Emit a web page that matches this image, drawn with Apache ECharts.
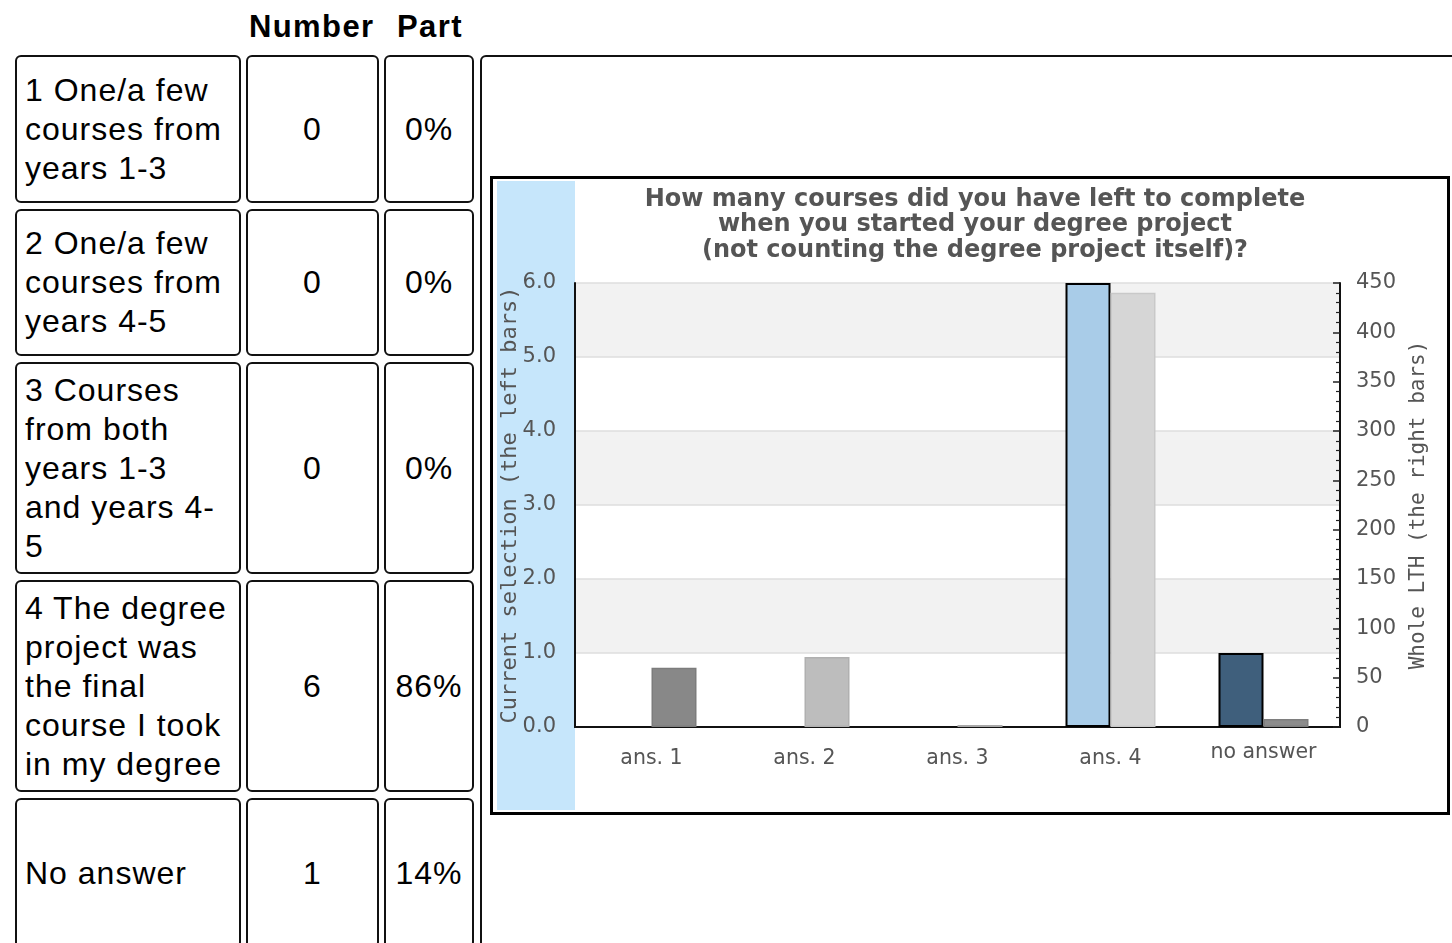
<!DOCTYPE html>
<html>
<head>
<meta charset="utf-8">
<script src="https://cdn.jsdelivr.net/npm/echarts@6/dist/echarts.min.js"></script>
<style>
  html, body { margin: 0; padding: 0; background: #fff; overflow: hidden; }
  body { width: 1452px; height: 943px; position: relative; font-family: "Liberation Sans", Arial, Helvetica, sans-serif; color: #000; }
  .hdr { position: absolute; top: 8px; font-weight: bold; font-size: 31px; line-height: 38px; letter-spacing: 1.4px; }
  .cell { position: absolute; box-sizing: border-box; border: 2px solid #111; border-radius: 6px;
          display: flex; align-items: center; font-size: 32px; line-height: 39px; white-space: nowrap; letter-spacing: 1px; }
  .c1 { left: 15px; width: 226px; padding-left: 8px; }
  .c2 { left: 246px; width: 133px; justify-content: center; }
  .c3 { left: 384px; width: 90px; justify-content: center; }
  #chart { position: absolute; left: 0; top: 0; width: 1452px; height: 943px; }
</style>
</head>
<body>
<div id="table"></div>
<div id="chart"></div>
<script>
// ---- table data ----
var tableHeaders = ['Number', 'Part'];
var answerTexts = [
  '1 One/a few\ncourses from\nyears 1-3',
  '2 One/a few\ncourses from\nyears 4-5',
  '3 Courses\nfrom both\nyears 1-3\nand years 4-\n5',
  '4 The degree\nproject was\nthe final\ncourse I took\nin my degree',
  'No answer'
];
var answerCounts = [0, 0, 0, 6, 1];
var answerParts = ['0%', '0%', '0%', '86%', '14%'];

// ---- chart data ----
var chartTitle = 'How many courses did you have left to complete\nwhen you started your degree project\n(not counting the degree project itself)?';
var categories = ['ans. 1', 'ans. 2', 'ans. 3', 'ans. 4', 'no answer'];
var currentSelection = [0, 0, 0, 6, 1];      // left bars, left axis
var wholeLTH = [60, 71, 2, 440, 8];          // right bars, right axis
var leftAxisName = 'Current selection (the left bars)';
var rightAxisName = 'Whole LTH (the right bars)';

// ---- styles (kept separate from data) ----
var leftColors = ['#a9cce8', '#a9cce8', '#a9cce8', '#a9cce8', '#3f5f7c'];
var rightColors = ['#888888', '#bdbdbd', '#b5b5b5', '#d6d6d6', '#8c8c8c'];
var rightBorders = ['#7c7c7c', '#b0b0b0', '#a8a8a8', '#c9c9c9', '#7e7e7e'];

// ---- build HTML table ----
var rowTops = [55, 209, 362, 580, 798];
var rowHeights = [148, 147, 212, 212, 150];
var tbl = document.getElementById('table');
var html = '';
html += '<div class="hdr" style="left:249px">' + tableHeaders[0] + '</div>';
html += '<div class="hdr" style="left:397px">' + tableHeaders[1] + '</div>';
for (var i = 0; i < answerTexts.length; i++) {
  var st = 'top:' + rowTops[i] + 'px;height:' + rowHeights[i] + 'px;';
  html += '<div class="cell c1" style="' + st + '"><div>' + answerTexts[i].replace(/\n/g, '<br>') + '</div></div>';
  html += '<div class="cell c2" style="' + st + '">' + answerCounts[i] + '</div>';
  html += '<div class="cell c3" style="' + st + '">' + answerParts[i] + '</div>';
}
html += '<div class="cell" style="left:480px;top:55px;width:1000px;height:920px;"></div>';
tbl.innerHTML = html;

// ---- chart ----
var chart = echarts.init(document.getElementById('chart'), null, { renderer: 'canvas' });
var labelFont = 'DejaVu Sans';
var monoFont = 'DejaVu Sans Mono';

var catData = categories.map(function (c, i) {
  return (i === categories.length - 1)
    ? { value: c, textStyle: { padding: [0, 0, 0, 0] } }
    : { value: c, textStyle: { padding: [6, 0, 0, 0] } };
});

var option = {
  animation: false,
  backgroundColor: 'transparent',
  title: {
    text: chartTitle,
    left: 970,
    top: 182,
    textAlign: 'center',
    textStyle: { fontFamily: labelFont, fontWeight: 'bold', fontSize: 24, lineHeight: 25.5, color: '#555555' }
  },
  graphic: [
    { type: 'rect', z: -10, shape: { x: 491.5, y: 177.5, width: 957, height: 636 },
      style: { fill: '#ffffff', stroke: '#000000', lineWidth: 3 } },
    { type: 'rect', z: -9, shape: { x: 497, y: 181, width: 78, height: 629 },
      style: { fill: '#c6e6fb' } }
  ],
  grid: { left: 575, top: 283, right: 112, bottom: 216, containLabel: false },
  xAxis: [
    {
      type: 'category', data: catData, position: 'bottom',
      axisLine: { show: true, lineStyle: { color: '#111', width: 2 } },
      axisTick: { show: false },
      axisLabel: { margin: 15, fontFamily: labelFont, fontSize: 20.5, color: '#555555' },
      splitLine: { show: false }
    },
    {
      type: 'category', data: categories, position: 'top',
      axisLine: { show: true, lineStyle: { color: '#111', width: 2 } },
      axisTick: { show: false }, axisLabel: { show: false }
    }
  ],
  yAxis: [
    {
      type: 'value', min: 0, max: 6, interval: 1, position: 'left',
      name: leftAxisName, nameLocation: 'middle', nameRotate: 90, nameGap: 54, nameMoveOverlap: false,
      nameTextStyle: { fontFamily: monoFont, fontSize: 22, color: '#555555' },
      axisLine: { show: true, lineStyle: { color: '#111', width: 2 } },
      axisTick: { show: false },
      axisLabel: { margin: 19, fontFamily: labelFont, fontSize: 21, color: '#555555',
                   formatter: function (v) { return v.toFixed(1); } },
      splitLine: { show: true, lineStyle: { color: '#dedede', width: 1.5 } },
      splitArea: { show: true, areaStyle: { color: ['#ffffff', '#f2f2f2'] } }
    },
    {
      type: 'value', min: 0, max: 450, interval: 50, position: 'right',
      name: rightAxisName, nameLocation: 'middle', nameRotate: 90, nameGap: 68, nameMoveOverlap: false,
      nameTextStyle: { fontFamily: monoFont, fontSize: 21, color: '#555555' },
      axisLine: { show: true, lineStyle: { color: '#111', width: 2 } },
      axisTick: { show: true, inside: true, length: 7, lineStyle: { color: '#222', width: 1.5 } },
      minorTick: { show: true, splitNumber: 5, length: 4, lineStyle: { color: '#222', width: 1.2 } },
      axisLabel: { margin: 16, fontFamily: labelFont, fontSize: 21, color: '#555555' },
      splitLine: { show: false }
    }
  ],
  series: [
    {
      type: 'bar', xAxisIndex: 0, yAxisIndex: 0, barWidth: 45, barGap: '0%',
      data: currentSelection.map(function (v, i) {
        return { value: v, itemStyle: { color: leftColors[i], borderColor: '#000', borderWidth: v > 0 ? 2 : 0 } };
      })
    },
    {
      type: 'bar', xAxisIndex: 0, yAxisIndex: 1, barWidth: 45, barGap: '0%',
      data: wholeLTH.map(function (v, i) {
        return { value: v, itemStyle: { color: rightColors[i], borderColor: rightBorders[i], borderWidth: 1.5 } };
      })
    }
  ]
};
chart.setOption(option);
</script>
</body>
</html>
